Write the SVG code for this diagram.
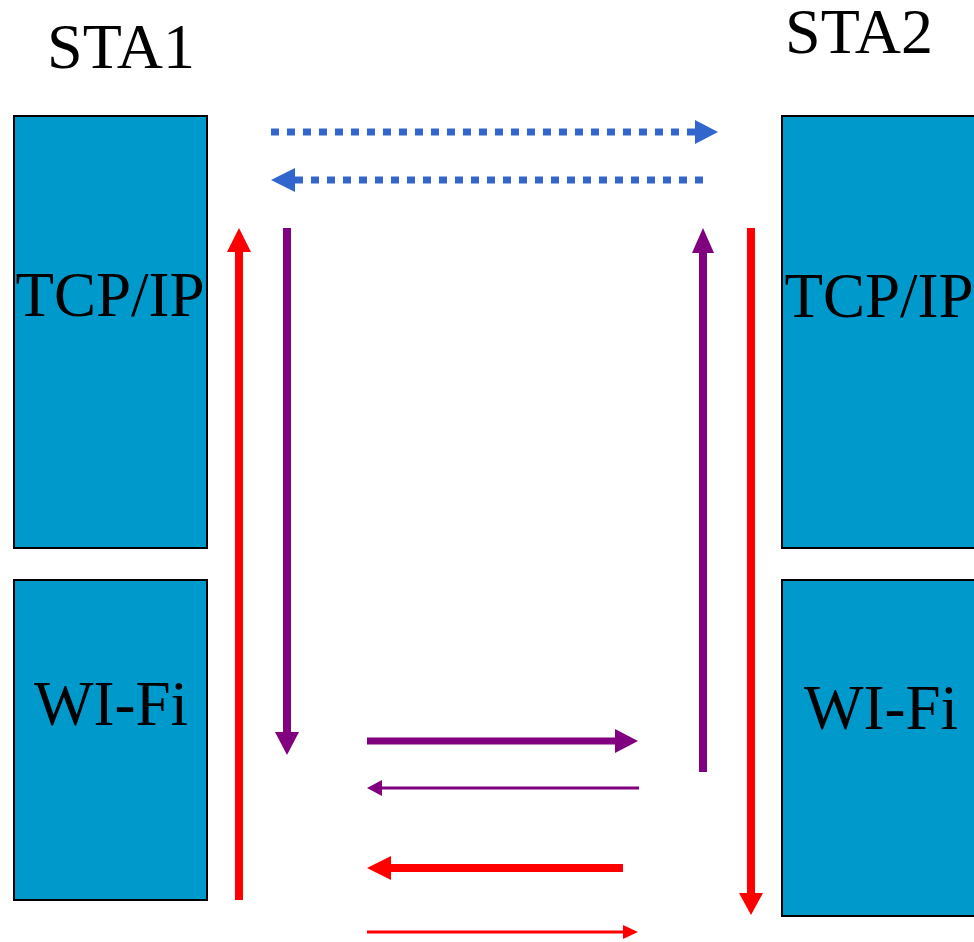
<svg xmlns="http://www.w3.org/2000/svg" width="974" height="942" viewBox="0 0 974 942">
<style>
.box{fill:#0099CC;stroke:#000;stroke-width:2}
.t{font-family:"Liberation Serif","Times New Roman",serif;font-size:63px;fill:#000;text-anchor:middle}
.h{font-size:64px}
.blue{stroke:#3366CC;stroke-width:7;fill:none;stroke-dasharray:8 8}
.bh{fill:#3366CC}
.p{stroke:#800080;fill:none}
.ph{fill:#800080}
.r{stroke:#FF0000;fill:none}
.rh{fill:#FF0000}
</style>
<rect width="974" height="942" fill="#fff"/>
<g id="sta1-label"><text class="t h" x="121" y="68">STA1</text></g>
<g id="sta2-label"><text class="t h" x="859" y="53">STA2</text></g>
<g id="sta1-tcpip"><rect class="box" x="14" y="116" width="193" height="432"/><text class="t" x="110" y="316">TCP/IP</text></g>
<g id="sta1-wifi"><rect class="box" x="14" y="580" width="193" height="320"/><text class="t" x="111" y="725">WI-Fi</text></g>
<g id="sta2-tcpip"><rect class="box" x="782" y="116" width="194" height="432"/><text class="t" x="879" y="317">TCP/IP</text></g>
<g id="sta2-wifi"><rect class="box" x="782" y="580" width="194" height="336"/><text class="t" x="881" y="729">WI-Fi</text></g>
<g id="connectors">
<line class="blue" x1="271" y1="132" x2="697" y2="132"/>
<polygon class="bh" points="695,120 718,132 695,144"/>
<line class="blue" x1="703" y1="180" x2="295" y2="180"/>
<polygon class="bh" points="295,168 271,180 295,192"/>
<line class="r" style="stroke-width:8" x1="239" y1="900" x2="239" y2="250"/>
<polygon class="rh" points="227,252 239,228 251,252"/>
<line class="p" style="stroke-width:8" x1="287" y1="228" x2="287" y2="734"/>
<polygon class="ph" points="275,732 287,755 299,732"/>
<line class="p" style="stroke-width:8" x1="703" y1="772" x2="703" y2="251"/>
<polygon class="ph" points="692,253 703,228 714,253"/>
<line class="r" style="stroke-width:8" x1="751" y1="228" x2="751" y2="895"/>
<polygon class="rh" points="739,893 751,915 763,893"/>
<line class="p" style="stroke-width:7" x1="367" y1="741" x2="617" y2="741"/>
<polygon class="ph" points="615,729 638,741 615,753"/>
<line class="p" style="stroke-width:3" x1="639" y1="788" x2="380" y2="788"/>
<polygon class="ph" points="382,780 367,788 382,796"/>
<line class="r" style="stroke-width:8" x1="623" y1="868" x2="389" y2="868"/>
<polygon class="rh" points="391,856 367,868 391,880"/>
<line class="r" style="stroke-width:3" x1="367" y1="932" x2="625" y2="932"/>
<polygon class="rh" points="623,925 638,932 623,939"/>
</g>
</svg>
